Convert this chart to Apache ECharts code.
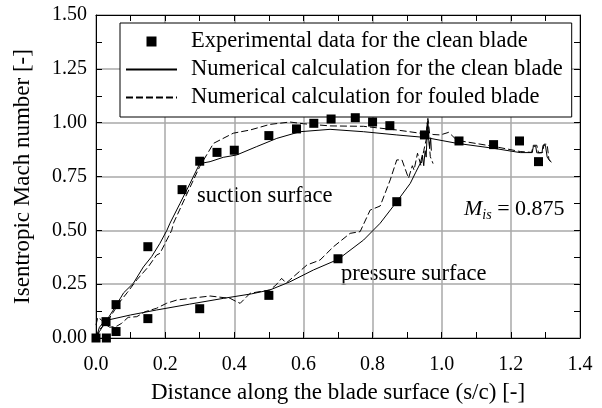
<!DOCTYPE html>
<html>
<head>
<meta charset="utf-8">
<script src="https://cdn.jsdelivr.net/npm/echarts@6/dist/echarts.min.js"></script>
<style>
html,body{margin:0;padding:0;background:#fff;}
#chart{width:602px;height:408px;}
</style>
</head>
<body>
<div id="chart"></div>
<script>
// experimental points [s/c, Mis]
var expData = [
	[0, 0], [0.03, 0], [0.029, 0.076], [0.058, 0.03], [0.058, 0.155],
	[0.15, 0.424], [0.15, 0.09], [0.30, 0.136], [0.50, 0.198], [0.70, 0.368], [0.87, 0.633],
	[0.249, 0.689], [0.30, 0.821], [0.35, 0.862], [0.40, 0.872], [0.50, 0.940], [0.58, 0.971],
	[0.63, 0.997], [0.68, 1.017], [0.75, 1.023], [0.80, 1.003], [0.85, 0.986], [0.95, 0.943],
	[1.05, 0.915], [1.15, 0.898], [1.225, 0.915], [1.28, 0.819]
];
// clean blade, suction side
var cleanSuction = [
	[0, 0], [0.01, 0.03], [0.03, 0.08], [0.05, 0.13], [0.065, 0.17], [0.08, 0.21], [0.108, 0.254],
	[0.137, 0.33], [0.161, 0.378], [0.185, 0.44], [0.205, 0.50], [0.214, 0.533], [0.243, 0.625],
	[0.272, 0.718], [0.30, 0.81], [0.33, 0.819], [0.368, 0.839], [0.407, 0.85], [0.465, 0.889],
	[0.523, 0.927], [0.59, 0.958], [0.677, 0.969], [0.774, 0.958], [0.87, 0.943], [0.947, 0.932],
	[0.967, 0.927], [1.044, 0.904], [1.15, 0.881], [1.227, 0.861], [1.262, 0.861], [1.265, 0.89],
	[1.272, 0.89], [1.275, 0.86], [1.29, 0.86], [1.293, 0.895], [1.30, 0.895], [1.305, 0.84], [1.314, 0.82]
];
// clean blade, pressure side
var cleanPressure = [
	[0, 0], [0.01, 0.05], [0.025, 0.08], [0.1, 0.107], [0.175, 0.13], [0.27, 0.157], [0.368, 0.184],
	[0.45, 0.205], [0.503, 0.223], [0.561, 0.261], [0.629, 0.316], [0.70, 0.365], [0.774, 0.455],
	[0.822, 0.533], [0.87, 0.633], [0.909, 0.718], [0.925, 0.77], [0.938, 0.811], [0.944, 0.85],
	[0.948, 0.80], [0.952, 0.87], [0.955, 0.84], [0.958, 0.95], [0.96, 1.01], [0.962, 0.93],
	[0.965, 0.88], [0.968, 0.93], [0.97, 0.87]
];
// fouled blade, suction side
var fouledSuction = [
	[0, 0], [0.01, 0.04], [0.03, 0.07], [0.05, 0.12], [0.07, 0.17], [0.09, 0.21], [0.118, 0.27],
	[0.151, 0.33], [0.175, 0.385], [0.185, 0.393], [0.19, 0.385], [0.2, 0.44], [0.219, 0.50],
	[0.224, 0.533], [0.272, 0.70], [0.30, 0.796], [0.34, 0.904], [0.397, 0.951], [0.446, 0.966],
	[0.503, 0.992], [0.561, 1.003], [0.6, 0.995], [0.677, 0.985], [0.774, 0.983], [0.87, 0.966],
	[0.938, 0.951], [0.955, 0.95], [0.96, 1.02], [0.965, 0.95], [0.975, 0.945], [0.996, 0.943],
	[1.02, 0.955], [1.03, 0.94], [1.044, 0.918], [1.15, 0.89], [1.227, 0.866], [1.26, 0.862],
	[1.265, 0.895], [1.275, 0.895], [1.28, 0.86], [1.292, 0.862], [1.296, 0.9], [1.305, 0.9],
	[1.31, 0.83], [1.32, 0.81]
];
// fouled blade, pressure side
var fouledPressure = [
	[0, 0.06], [0.005, 0.095], [0.015, 0.085], [0.03, 0.06], [0.04, 0.05], [0.06, 0.055],
	[0.074, 0.068], [0.093, 0.096], [0.118, 0.099], [0.142, 0.122], [0.175, 0.138], [0.204, 0.161],
	[0.233, 0.176], [0.272, 0.184], [0.33, 0.195], [0.388, 0.184], [0.405, 0.17], [0.417, 0.161],
	[0.446, 0.208], [0.503, 0.223], [0.52, 0.245], [0.537, 0.277], [0.55, 0.255], [0.561, 0.27],
	[0.61, 0.339], [0.648, 0.362], [0.687, 0.424], [0.735, 0.486], [0.764, 0.494], [0.793, 0.594],
	[0.822, 0.613], [0.851, 0.734], [0.87, 0.827], [0.885, 0.827], [0.904, 0.742], [0.915, 0.80],
	[0.92, 0.78], [0.93, 0.858], [0.94, 0.80], [0.948, 0.87], [0.955, 0.92], [0.958, 1.0],
	[0.962, 0.96], [0.965, 0.88], [0.967, 0.842], [0.97, 0.84], [0.975, 0.81]
];
var legendNames = [
	'Experimental data for the clean blade',
	'Numerical calculation for the clean blade',
	'Numerical calculation for fouled blade'
];

var FONT = '"Liberation Serif", "Times New Roman", serif';
var myChart = echarts.init(document.getElementById('chart'));

function sideAxis(pos, isX){
	var a = {
		type: 'value',
		position: pos,
		min: 0,
		max: isX ? 1.4 : 1.5,
		interval: isX ? 0.2 : 0.25,
		axisLine: {show: true, onZero: false, lineStyle: {color: '#000', width: 1}},
		axisTick: {show: true, inside: true, length: 6, lineStyle: {color: '#000'}},
		minorTick: {show: true, splitNumber: 2, length: 6, lineStyle: {color: '#000'}},
		splitLine: {show: false},
		axisLabel: {show: false}
	};
	return a;
}

var xTop = sideAxis('top', true);
var yRight = sideAxis('right', false);

var xMain = sideAxis('bottom', true);
xMain.splitLine = {show: true, lineStyle: {color: '#a8a8a8', width: 1.5}};
xMain.axisLabel = {show: true, margin: 17, color: '#000', fontFamily: FONT, fontSize: 20,
	formatter: function(v){ return v.toFixed(1); }};
xMain.name = 'Distance along the blade surface (s/c) [-]';
xMain.nameLocation = 'middle';
xMain.nameGap = 43;
xMain.nameTextStyle = {color: '#000', fontFamily: FONT, fontSize: 23};

var yMain = sideAxis('left', false);
yMain.splitLine = {show: true, lineStyle: {color: '#a8a8a8', width: 1.5}};
yMain.axisLabel = {show: true, margin: 9, color: '#000', fontFamily: FONT, fontSize: 20,
	formatter: function(v){ return v.toFixed(2); }};
yMain.name = 'Isentropic Mach number [-]';
yMain.nameLocation = 'middle';
yMain.nameGap = 62;
yMain.nameTextStyle = {color: '#000', fontFamily: FONT, fontSize: 23};

function lineSeries(name, data, dashed){
	return {
		name: name,
		type: 'line',
		data: data,
		showSymbol: false,
		symbol: 'none',
		smooth: false,
		silent: true,
		lineStyle: {color: '#000', width: 1, type: dashed ? [7, 3] : 'solid'},
		itemStyle: {color: '#000'}
	};
}

option = {
	animation: false,
	backgroundColor: '#fff',
	grid: {left: 96, right: 22, top: 15, bottom: 70, outerBoundsMode: 'none', containLabel: false},
	xAxis: [xMain, xTop],
	yAxis: [yMain, yRight],
	legend: {
		orient: 'vertical',
		left: 120,
		top: 23,
		data: [
			{name: legendNames[0], icon: 'path://M0,0 L10,0 L10,10 L0,10 Z'},
			{name: legendNames[1], icon: 'inherit', itemStyle: {opacity: 0}},
			{name: legendNames[2], icon: 'inherit', itemStyle: {opacity: 0}}
		],
		itemWidth: 51,
		itemHeight: 10,
		itemGap: 5,
		padding: [7, 9, 8, 5],
		backgroundColor: '#fff',
		borderColor: '#000',
		borderWidth: 1,
		borderRadius: 0,
		textStyle: {color: '#000', fontFamily: FONT, fontSize: 22.5, lineHeight: 22, padding: [0, 0, 0, 9]}
	},
	graphic: [
		{type: 'text', left: 197, top: 185, style: {text: 'suction surface', fill: '#000', font: '22.5px ' + FONT}},
		{type: 'text', left: 341, top: 263, style: {text: 'pressure surface', fill: '#000', font: '22.5px ' + FONT}},
		{type: 'text', left: 464, top: 198, style: {
			text: '{m|M}{s|is}{t| = 0.875}',
			rich: {
				m: {fontFamily: FONT, fontSize: 22, fontStyle: 'italic', fill: '#000', verticalAlign: 'middle', lineHeight: 26},
				s: {fontFamily: FONT, fontSize: 14, fontStyle: 'italic', fill: '#000', verticalAlign: 'bottom', lineHeight: 14},
				t: {fontFamily: FONT, fontSize: 22, fill: '#000', verticalAlign: 'middle', lineHeight: 26}
			}
		}}
	],
	series: [
		{
			name: legendNames[0],
			type: 'scatter',
			data: expData,
			symbol: 'rect',
			symbolSize: 9,
			silent: true,
			itemStyle: {color: '#000', opacity: 1},
			z: 5
		},
		lineSeries(legendNames[1], cleanSuction, false),
		lineSeries(legendNames[1], cleanPressure, false),
		lineSeries(legendNames[2], fouledSuction, true),
		lineSeries(legendNames[2], fouledPressure, true)
	]
};

myChart.setOption(option);
</script>
</body>
</html>
